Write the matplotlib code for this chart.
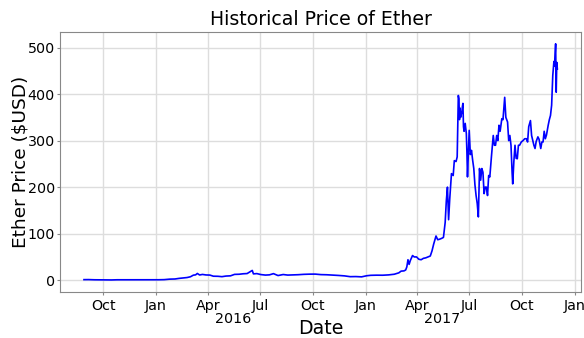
import numpy as np
import matplotlib
matplotlib.use("Agg")
import matplotlib.pyplot as plt
import matplotlib.dates as mdates
import matplotlib.ticker as ticker

# Ether close price
dates = [
    "2015-08-28", "2015-09-05", "2015-09-15", "2015-09-25", "2015-10-05", "2015-10-15",
    "2015-10-25", "2015-11-05", "2015-11-15", "2015-11-25", "2015-12-05", "2015-12-15",
    "2015-12-25", "2016-01-05", "2016-01-15", "2016-01-25", "2016-02-03", "2016-02-10",
    "2016-02-17", "2016-02-24", "2016-03-01", "2016-03-06", "2016-03-10", "2016-03-13",
    "2016-03-17", "2016-03-22", "2016-03-28", "2016-04-04", "2016-04-10", "2016-04-18",
    "2016-04-25", "2016-05-02", "2016-05-10", "2016-05-17", "2016-05-25", "2016-06-01",
    "2016-06-08", "2016-06-13", "2016-06-17", "2016-06-19", "2016-06-25", "2016-07-02",
    "2016-07-10", "2016-07-17", "2016-07-24", "2016-08-01", "2016-08-10", "2016-08-18",
    "2016-08-26", "2016-09-05", "2016-09-15", "2016-09-25", "2016-10-05", "2016-10-15",
    "2016-10-25", "2016-11-05", "2016-11-15", "2016-11-25", "2016-12-05", "2016-12-15",
    "2016-12-25", "2017-01-03", "2017-01-10", "2017-01-20", "2017-01-31", "2017-02-10",
    "2017-02-20", "2017-02-28", "2017-03-04", "2017-03-09", "2017-03-12", "2017-03-14",
    "2017-03-16", "2017-03-18", "2017-03-20", "2017-03-24", "2017-03-27", "2017-03-31",
    "2017-04-04", "2017-04-08", "2017-04-12", "2017-04-16", "2017-04-20", "2017-04-24",
    "2017-04-27", "2017-04-30", "2017-05-04", "2017-05-07", "2017-05-10", "2017-05-14",
    "2017-05-17", "2017-05-20", "2017-05-22", "2017-05-24", "2017-05-26", "2017-05-28",
    "2017-05-31", "2017-06-03", "2017-06-05", "2017-06-08", "2017-06-10", "2017-06-12",
    "2017-06-13", "2017-06-14", "2017-06-15", "2017-06-16", "2017-06-17", "2017-06-18",
    "2017-06-19", "2017-06-20", "2017-06-21", "2017-06-22", "2017-06-24",
    "2017-06-26", "2017-06-27", "2017-06-28", "2017-06-30", "2017-07-01", "2017-07-03",
    "2017-07-05", "2017-07-07", "2017-07-09", "2017-07-11", "2017-07-13", "2017-07-15",
    "2017-07-17", "2017-07-19", "2017-07-21", "2017-07-23", "2017-07-25", "2017-07-27",
    "2017-07-29", "2017-07-31", "2017-08-02", "2017-08-04", "2017-08-06", "2017-08-09",
    "2017-08-12", "2017-08-14", "2017-08-16", "2017-08-18", "2017-08-20", "2017-08-22",
    "2017-08-24", "2017-08-27", "2017-08-29", "2017-09-01", "2017-09-03", "2017-09-06",
    "2017-09-08", "2017-09-10", "2017-09-12", "2017-09-14", "2017-09-15", "2017-09-17",
    "2017-09-19", "2017-09-21", "2017-09-23", "2017-09-25", "2017-09-27", "2017-09-30",
    "2017-10-03", "2017-10-06", "2017-10-09", "2017-10-11", "2017-10-13", "2017-10-16",
    "2017-10-18", "2017-10-20", "2017-10-22", "2017-10-24", "2017-10-26", "2017-10-29",
    "2017-10-31", "2017-11-03", "2017-11-05", "2017-11-07", "2017-11-09", "2017-11-11",
    "2017-11-13", "2017-11-16", "2017-11-18", "2017-11-20", "2017-11-22", "2017-11-24",
    "2017-11-26", "2017-11-27", "2017-11-29", "2017-11-30", "2017-12-01", "2017-12-02",
]
prices = [
    1.2, 1.3, 0.9, 0.8, 0.65, 0.55,
    0.9, 1.0, 0.9, 0.9, 0.85, 0.95,
    0.85, 0.95, 1.2, 2.3, 2.6, 3.9,
    4.8, 5.7, 7.4, 10.8, 11.5, 14.5,
    11.2, 12.4, 11.3, 11.0, 8.6, 8.4,
    7.6, 8.9, 9.4, 12.5, 12.8, 13.8,
    14.3, 17.9, 21.0, 13.6, 14.2, 12.1,
    11.0, 11.5, 14.1, 10.0, 12.2, 11.0,
    11.3, 11.8, 12.6, 13.0, 13.1, 12.0,
    11.7, 11.0, 10.2, 9.3, 7.6, 7.8,
    7.2, 9.6, 10.5, 10.8, 10.7, 11.4,
    12.8, 15.8, 19.5, 20.0, 22.0, 28.5,
    44, 34, 42, 53, 50, 50,
    45, 44, 47, 48, 50, 52,
    63, 78, 95, 87, 88, 90,
    92, 124, 170, 200, 130, 175,
    229, 225, 257, 255, 265, 397,
    390, 345, 370, 350, 360, 358,
    372, 380, 330, 320, 337,
    315, 275, 222, 290, 322, 270,
    279, 258, 240, 205, 182, 165,
    136, 240, 215, 240, 232, 186,
    200, 200, 182, 225, 222, 268,
    311, 290, 290, 311, 300, 333,
    320, 347, 345, 393, 350, 340,
    300, 311, 290, 230, 207, 255,
    290, 262, 261, 290, 290, 297,
    300, 304, 304, 297, 330, 343,
    311, 300, 290, 283, 298, 308,
    303, 283, 297, 297, 320, 304,
    312, 333, 345, 354, 376, 440,
    470, 460, 508, 404, 468, 454,
]
year_labels = ["2016", "2017"]
year_pos = ["2016-05-15", "2017-05-15"]

x = np.array(dates, dtype="datetime64[D]")
y = np.array(prices)

fig = plt.figure(figsize=(5.84, 3.38), dpi=100)
ax = fig.add_axes([0.1033, 0.1352, 0.8916, 0.771])
ax.plot(x, y, color="blue", linewidth=1.2)

ax.set_ylim(-26, 534)
ax.yaxis.set_major_locator(ticker.MultipleLocator(100))

# quarter months as major ticks, year names as minor ticks below them
ax.xaxis.set_major_locator(mdates.MonthLocator(bymonth=[1, 4, 7, 10]))
ax.xaxis.set_major_formatter(mdates.DateFormatter("%b"))
ax.xaxis.set_minor_locator(ticker.FixedLocator(mdates.datestr2num(year_pos)))
ax.xaxis.set_minor_formatter(ticker.FixedFormatter(year_labels))
ax.tick_params(axis="x", which="minor", length=0, pad=14, labelsize=10.3)
ax.tick_params(axis="both", which="major", labelsize=10.3, color="#888888",
               length=2, pad=1.8)
ax.tick_params(axis="x", which="major", pad=3)

ax.grid(True, which="major", color="#dddddd", linewidth=1)
ax.set_axisbelow(True)
for sp in ax.spines.values():
    sp.set_color("#888888")

ax.set_title("Historical Price of Ether", fontsize=13.6, pad=5)
ax.set_xlabel("Date", fontsize=13.6, labelpad=-5)
ax.set_ylabel("Ether Price ($USD)", fontsize=13.3, labelpad=-1)

fig.savefig("out.png", dpi=100)
